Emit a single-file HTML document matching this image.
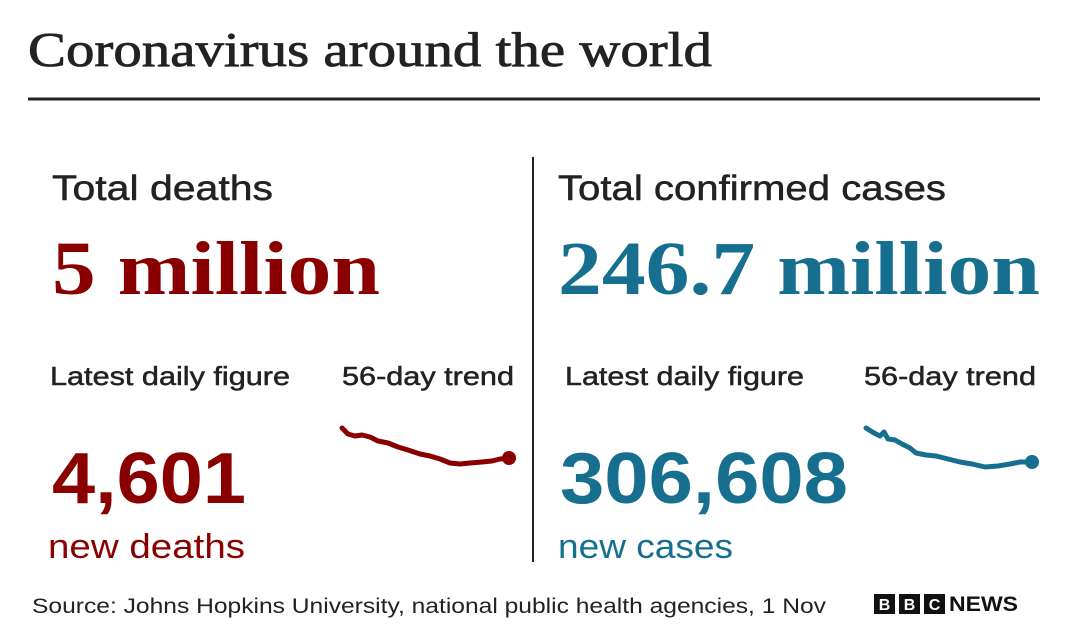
<!DOCTYPE html>
<html><head><meta charset="utf-8"><style>html,body{margin:0;padding:0;background:#fff}svg{display:block}</style></head>
<body>
<svg width="1066" height="633" viewBox="0 0 1066 633" xmlns="http://www.w3.org/2000/svg">
<rect width="1066" height="633" fill="#fff"/>
<g font-family="Liberation Serif, serif" fill="#222" stroke="#222" stroke-width="0.8">
<text x="28" y="66" font-size="49" textLength="684" lengthAdjust="spacingAndGlyphs">Coronavirus around the world</text>
</g>
<rect x="28" y="97.5" width="1012" height="3" fill="#222"/>
<rect x="532" y="157" width="2" height="405" fill="#222"/>
<g font-family="Liberation Sans, sans-serif" fill="#222" stroke="#222" stroke-width="0.5">
<text x="52" y="200" font-size="35" textLength="221" lengthAdjust="spacingAndGlyphs">Total deaths</text>
<text x="558" y="200" font-size="35" textLength="388" lengthAdjust="spacingAndGlyphs">Total confirmed cases</text>
<text x="50" y="385" font-size="26" textLength="240" lengthAdjust="spacingAndGlyphs">Latest daily figure</text>
<text x="342" y="385" font-size="26" textLength="172" lengthAdjust="spacingAndGlyphs">56-day trend</text>
<text x="565" y="385" font-size="26" textLength="239" lengthAdjust="spacingAndGlyphs">Latest daily figure</text>
<text x="864" y="385" font-size="26" textLength="172" lengthAdjust="spacingAndGlyphs">56-day trend</text>
</g>
<text x="32" y="613" font-family="Liberation Sans, sans-serif" fill="#222" font-size="21" textLength="794" lengthAdjust="spacingAndGlyphs">Source: Johns Hopkins University, national public health agencies, 1 Nov</text>
<g font-family="Liberation Serif, serif" font-weight="bold">
<text x="52" y="294" font-size="76" fill="#8a0000" textLength="328" lengthAdjust="spacingAndGlyphs">5 million</text>
<text x="558" y="294" font-size="76" fill="#176f8f" textLength="482" lengthAdjust="spacingAndGlyphs">246.7 million</text>
</g>
<g font-family="Liberation Sans, sans-serif" font-weight="bold">
<text x="52" y="503" font-size="72" fill="#8a0000" textLength="194" lengthAdjust="spacingAndGlyphs">4,601</text>
<text x="560" y="503" font-size="72" fill="#176f8f" textLength="288" lengthAdjust="spacingAndGlyphs">306,608</text>
</g>
<g font-family="Liberation Sans, sans-serif">
<text x="48" y="558" font-size="34" fill="#8a0000" textLength="197" lengthAdjust="spacingAndGlyphs">new deaths</text>
<text x="558" y="558" font-size="34" fill="#176f8f" textLength="175" lengthAdjust="spacingAndGlyphs">new cases</text>
</g>
<polyline fill="none" stroke="#8a0000" stroke-width="5" stroke-linejoin="round" stroke-linecap="round" points="342,428 348,434 355,436 362,435 370,437 378,441 388,443 398,447 408,450 420,454 430,456 440,459 450,463 460,464 470,463 482,462 492,461 500,459 510,458"/>
<circle cx="509" cy="458" r="7" fill="#8a0000"/>
<polyline fill="none" stroke="#176f8f" stroke-width="5" stroke-linejoin="round" stroke-linecap="round" points="866,428 874,433 880,436 884,432 888,439 895,440 902,444 910,448 916,453 926,455 936,456 948,459 960,462 972,464 985,467 998,466 1010,464 1020,462 1032,462"/>
<circle cx="1032" cy="462" r="7" fill="#176f8f"/>
<g>
<rect x="874" y="594" width="21" height="20" fill="#111"/>
<rect x="899" y="594" width="21" height="20" fill="#111"/>
<rect x="924" y="594" width="21" height="20" fill="#111"/>
<g font-family="Liberation Sans, sans-serif" font-weight="bold" font-size="16" fill="#fff" text-anchor="middle">
<text x="884.5" y="610">B</text><text x="909.5" y="610">B</text><text x="934.5" y="610">C</text>
</g>
<text x="949" y="611" font-family="Liberation Sans, sans-serif" font-weight="bold" font-size="21" fill="#111" textLength="69" lengthAdjust="spacingAndGlyphs">NEWS</text>
</g>
</svg>
</body></html>
